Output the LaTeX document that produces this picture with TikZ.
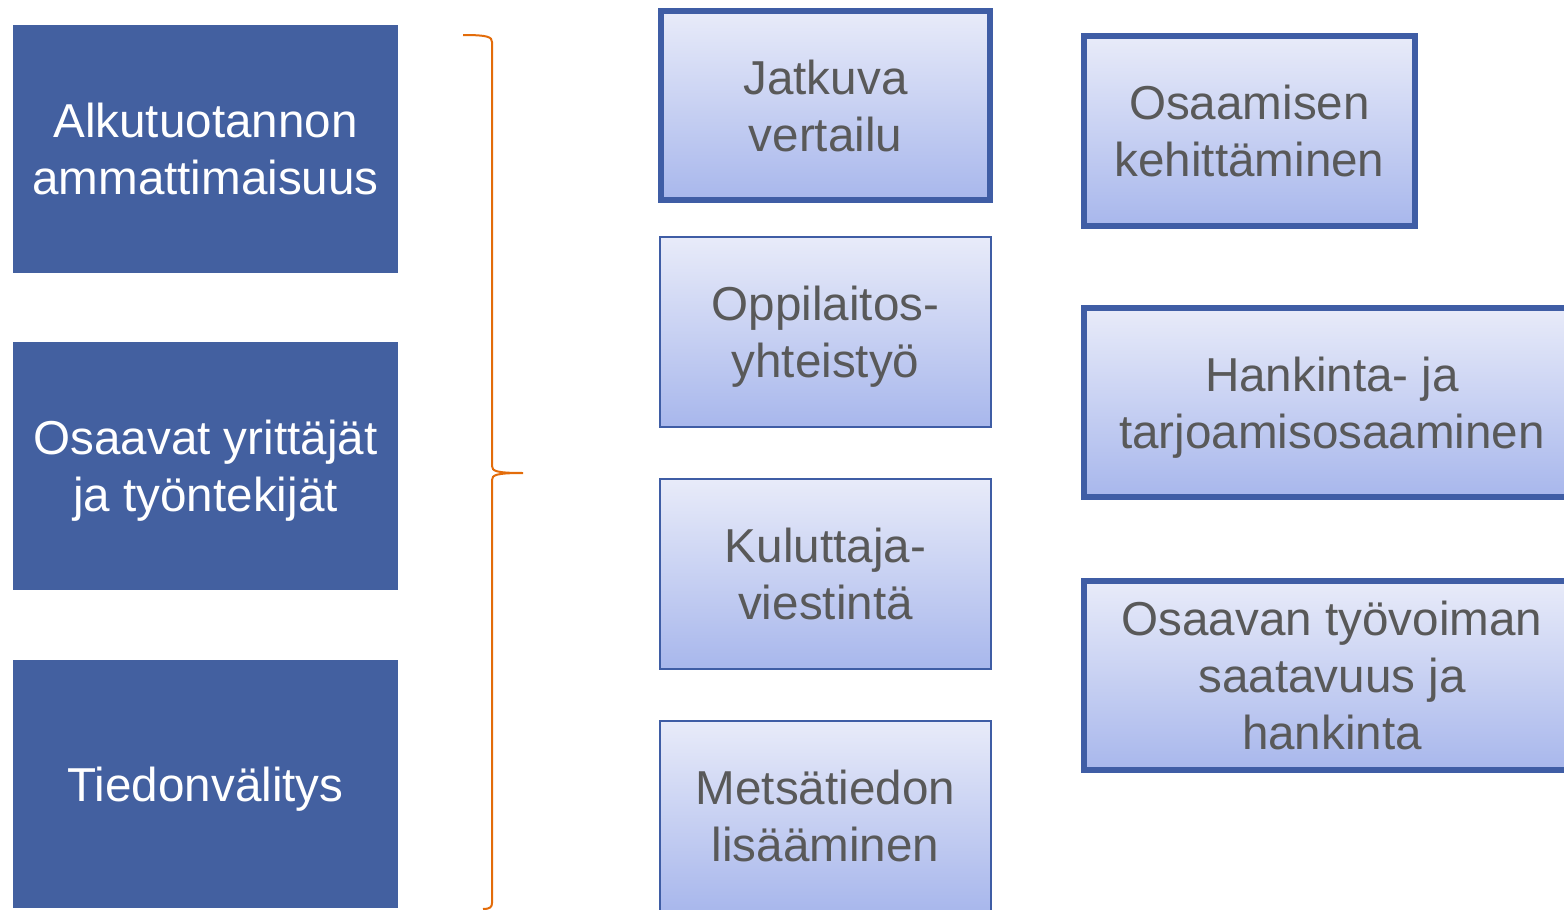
\documentclass[tikz,border=0pt]{standalone}
\usepackage{fontspec}
\setmainfont{Liberation Sans}
\usetikzlibrary{positioning}
\definecolor{darkblue}{HTML}{4360A0}
\definecolor{framblue}{HTML}{3F5DA5}
\definecolor{shadetop}{HTML}{E8EBF9}
\definecolor{shadebot}{HTML}{A8B7EC}
\definecolor{textgray}{HTML}{595959}
\definecolor{braceorange}{HTML}{E36C0A}

\begin{document}
\begin{tikzpicture}[x=0.5pt,y=-0.5pt,
  darkbox/.style={fill=darkblue,text=white,minimum width=192.5pt,minimum height=124pt,
    inner sep=0pt,align=center,text depth=0pt,font=\fontsize{23.8}{28.5}\selectfont},
  lightbox/.style={top color=shadetop,bottom color=shadebot,draw=framblue,text=textgray,
    minimum width=165.5pt,minimum height=95pt,inner sep=0pt,align=center,text depth=0pt,
    font=\fontsize{23.8}{28.5}\selectfont},
  thinframe/.style={lightbox,line width=1pt},
  thickframe/.style={lightbox,line width=3pt},
  brace/.style={draw=braceorange,line width=1pt}]
\useasboundingbox (0,0) rectangle (1564,910);
% left column
\node[darkbox] (prim) at (205.5,148.5) {Alkutuotannon\\ammattimaisuus};
\node[darkbox] (skill) at (205.5,466) {Osaavat yrittäjät\\ja työntekijät};
\node[darkbox] (info) at (205.5,784) {Tiedonvälitys};
% brace
\draw[brace] (463,35) .. controls (488,35) and (492,37) .. (492,42) -- (492,466)
  .. controls (492,471) and (496,473) .. (523,473)
  .. controls (496,473) and (492,475) .. (492,480) -- (492,903)
  .. controls (492,907) and (490,909) .. (483,909);
% middle column
\node[thickframe,minimum height=94.5pt,minimum width=164.5pt] (compare) at (825.5,105.5) {Jatkuva\\vertailu};
\node[thinframe] (school) at (825.5,332) {Oppilaitos-\\yhteistyö};
\node[thinframe] (consumer) at (825.5,574) {Kuluttaja-\\viestintä};
\node[thinframe] (forest) at (825.5,816) {Metsätiedon\\lisääminen};
% right column
\node[thickframe] (develop) at (1249.5,131) {Osaamisen\\kehittäminen};
\node[thickframe,minimum width=248pt,minimum height=94.5pt] (procure) at (1332,402.5) {Hankinta- ja\\tarjoamisosaaminen};
\node[thickframe,minimum width=248pt,minimum height=94.5pt] (labour) at (1332,675.5) {Osaavan työvoiman\\saatavuus ja\\hankinta};
\end{tikzpicture}
\end{document}
